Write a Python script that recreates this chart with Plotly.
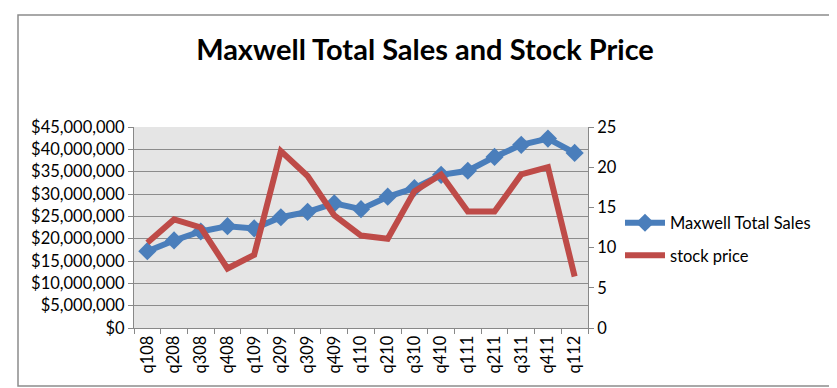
import plotly.graph_objects as go

quarters = ["q108", "q208", "q308", "q408", "q109", "q209", "q309", "q409", "q110",
            "q210", "q310", "q410", "q111", "q211", "q311", "q411", "q112"]
total_sales = [17.2e6, 19.6e6, 21.6e6, 22.8e6, 22.3e6, 24.8e6, 26.0e6, 27.9e6, 26.6e6,
               29.4e6, 31.3e6, 34.3e6, 35.2e6, 38.3e6, 41.0e6, 42.4e6, 39.2e6]
stock_price = [10.6, 13.5, 12.5, 7.4, 9.1, 22.0, 18.9, 14.0, 11.5,
               11.1, 17.0, 19.1, 14.5, 14.5, 19.1, 20.0, 6.4]
sales_ticks = list(range(0, 45000001, 5000000))
sales_tick_text = ["$" + format(v, ",") for v in sales_ticks]

W, H = 837, 388
L, R, T, B = 126, 580, 119, 320
pw, ph = R - L, B - T

font = "Lato, 'Open Sans', sans-serif"

fig = go.Figure()
fig.add_trace(go.Scatter(
    x=quarters, y=total_sales, name="Maxwell Total Sales", mode="lines+markers",
    line=dict(color="#4a7ebb", width=6),
    marker=dict(symbol="diamond", size=14, color="#4a7ebb"),
    legendgroup="a", yaxis="y"))
fig.add_trace(go.Scatter(
    x=quarters, y=stock_price, name="stock price", mode="lines",
    line=dict(color="#be4b48", width=6),
    legendgroup="b", yaxis="y2"))

def px_x(p):
    return (p - L) / pw

def px_y(p):
    return (B - p) / ph

fs = 16.5

fig.update_layout(
    width=W, height=H,
    margin=dict(l=L, r=W - R, t=T, b=H - B),
    paper_bgcolor="white", plot_bgcolor="#e5e5e5",
    font=dict(family=font, size=fs, color="black"),
    title=dict(text="<b>Maxwell Total Sales and Stock Price</b>",
               x=417 / W, xanchor="center", y=1 - 42 / H, yanchor="middle",
               yref="container",
               font=dict(family=font, size=29, color="black")),
    xaxis=dict(type="category", tickangle=-90, tickson="boundaries",
               ticks="outside", ticklen=5, tickcolor="#888888",
               showline=True, linecolor="#888888", linewidth=1,
               showgrid=False, tickfont=dict(size=fs), range=[-0.5, 16.5]),
    yaxis=dict(range=[0, 45000000], tickvals=sales_ticks, ticktext=sales_tick_text,
               showgrid=True, gridcolor="#8c8c8c", gridwidth=1,
               ticks="outside", ticklen=5, tickcolor="#888888",
               showline=True, linecolor="#888888", zeroline=False,
               tickfont=dict(size=fs)),
    yaxis2=dict(range=[0, 25], dtick=5, overlaying="y", side="right",
                showgrid=False, ticks="outside", ticklen=5, tickcolor="#888888",
                showline=True, linecolor="#888888", zeroline=False,
                tickfont=dict(size=fs)),
    legend=dict(x=px_x(612), y=px_y(231), xanchor="left", yanchor="middle",
                bgcolor="rgba(0,0,0,0)", font=dict(size=fs),
                itemwidth=40, traceorder="grouped", tracegroupgap=8),
    showlegend=True,
)

fig.add_shape(type="rect", xref="paper", yref="paper",
              x0=px_x(10), x1=px_x(827), y0=px_y(378), y1=px_y(7),
              line=dict(color="#8c8c8c", width=1.5), layer="below")

fig.write_html("out.html")
